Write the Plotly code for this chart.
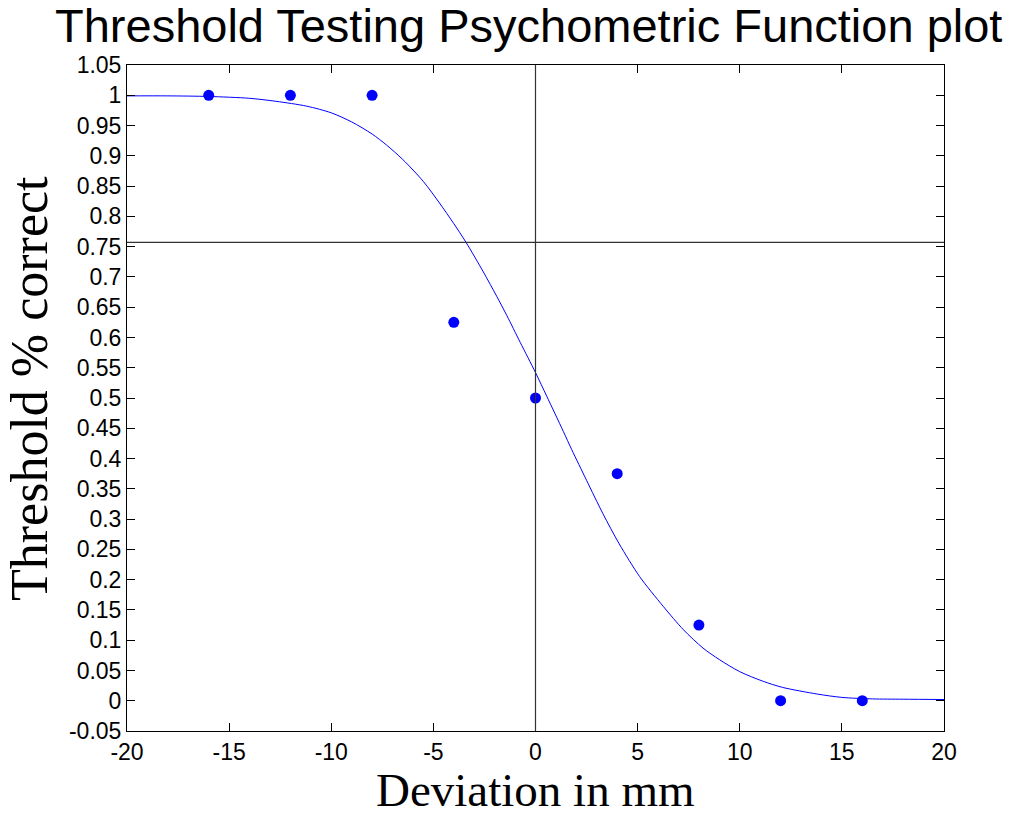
import plotly.graph_objects as go

# Observed data points
deviation_mm = [-16, -12, -8, -4, 0, 4, 8, 12, 16]
pct_correct = [1.0, 1.0, 1.0, 0.625, 0.5, 0.375, 0.125, 0.0, 0.0]

# Fitted psychometric curve
fit_x = [-20, -18, -16, -14, -12.7, -11.2, -10, -9, -8, -7.3, -6.5, -5.5, -4.7, -4,
         -3.4, -2.55, -1.9, -1.4, -0.75, 0, 0.55, 1.36, 1.77, 2.5, 3.3, 4.1, 5.1,
         6.25, 7.25, 8.2, 9, 10, 11.15, 12.1, 13.8, 15, 16.5, 18, 20]
fit_y = [0.999, 0.999, 0.998, 0.995, 0.990, 0.982, 0.971, 0.956, 0.936, 0.918, 0.894,
         0.858, 0.822, 0.788, 0.757, 0.708, 0.668, 0.636, 0.592, 0.542, 0.503, 0.445,
         0.415, 0.364, 0.309, 0.259, 0.205, 0.156, 0.117, 0.087, 0.068, 0.048, 0.032,
         0.022, 0.011, 0.0055, 0.003, 0.0025, 0.002]

threshold_level = 0.757
centre_x = 0

x_tickvals = [-20, -15, -10, -5, 0, 5, 10, 15, 20]
x_ticktext = ["-20", "-15", "-10", "-5", "0", "5", "10", "15", "20"]
y_tickvals = [-0.05, 0, 0.05, 0.1, 0.15, 0.2, 0.25, 0.3, 0.35, 0.4, 0.45, 0.5, 0.55,
              0.6, 0.65, 0.7, 0.75, 0.8, 0.85, 0.9, 0.95, 1.0, 1.05]
y_ticktext = ["-0.05", "0", "0.05", "0.1", "0.15", "0.2", "0.25", "0.3", "0.35", "0.4",
              "0.45", "0.5", "0.55", "0.6", "0.65", "0.7", "0.75", "0.8", "0.85", "0.9",
              "0.95", "1", "1.05"]

title_text = "Threshold Testing Psychometric Function plot"
x_title = "Deviation in mm"
y_title = "Threshold % correct"

fig = go.Figure()
fig.add_trace(go.Scatter(x=fit_x, y=fit_y, mode="lines",
                         line=dict(color="#0000ff", width=1, shape="spline", smoothing=0.8),
                         showlegend=False))
fig.add_trace(go.Scatter(x=deviation_mm, y=pct_correct, mode="markers",
                         marker=dict(color="#0000ff", size=11), showlegend=False))

fig.add_shape(type="line", xref="paper", yref="y", x0=0, x1=1,
              y0=threshold_level, y1=threshold_level, line=dict(color="#333333", width=1.2))
fig.add_shape(type="line", xref="x", yref="paper", x0=centre_x, x1=centre_x,
              y0=0, y1=1, line=dict(color="#333333", width=1.2))

axis_common = dict(showgrid=False, zeroline=False, showline=True, linecolor="black",
                   linewidth=1, mirror="ticks", ticks="inside", ticklen=8,
                   tickwidth=1, tickcolor="black",
                   tickfont=dict(family="Liberation Sans, Arial", size=23, color="black"))

fig.update_xaxes(range=[-20, 20], tickmode="array", tickvals=x_tickvals,
                 ticktext=x_ticktext, **axis_common)
fig.update_yaxes(range=[-0.05, 1.05], tickmode="array", tickvals=y_tickvals,
                 ticktext=y_ticktext, **axis_common)

fig.add_annotation(text=title_text, xref="paper", yref="paper", x=0.492, y=1.06,
                   xanchor="center", yanchor="middle", showarrow=False,
                   font=dict(family="Liberation Sans, Arial", size=47, color="black"))
fig.add_annotation(text=x_title, xref="paper", yref="paper", x=0.5, y=-0.088,
                   xanchor="center", yanchor="middle", showarrow=False,
                   font=dict(family="Liberation Serif, Times New Roman", size=47, color="black"))
fig.add_annotation(text=y_title, xref="paper", yref="paper", x=-0.12, y=0.515,
                   xanchor="center", yanchor="middle", showarrow=False, textangle=-90,
                   font=dict(family="Liberation Serif, Times New Roman", size=52, color="black"))

fig.update_layout(width=1027, height=813, margin=dict(l=127, r=83, t=65, b=82),
                  paper_bgcolor="white", plot_bgcolor="white")

fig.write_html("out.html")
